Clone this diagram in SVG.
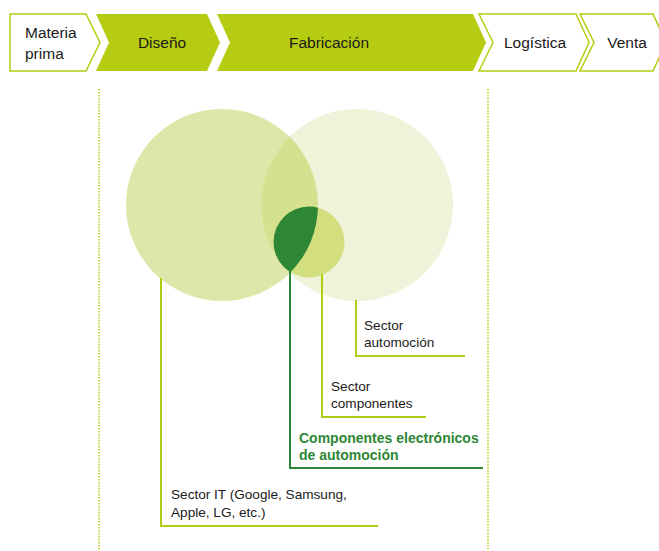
<svg xmlns="http://www.w3.org/2000/svg" width="659" height="551" viewBox="0 0 659 551">
<style>
.chev{fill:#b5cc12}
.chevo{fill:#fff;stroke:#b5cc12;stroke-width:1.5}
.ht{font-family:"Liberation Sans",Arial,sans-serif;font-size:15.5px;fill:#1a1a1a}
.lt{font-family:"Liberation Sans",Arial,sans-serif;font-size:13.6px;fill:#1a1a1a}
.bt{font-family:"Liberation Sans",Arial,sans-serif;font-size:14px;font-weight:bold;fill:#2e8735}
.ll{fill:none;stroke:#b5cc12;stroke-width:2}
.ld{fill:none;stroke:#2e8735;stroke-width:2}
.dot{stroke:#b5cc12;stroke-width:1.5;stroke-dasharray:1.5 1.5}
</style>
<defs>
<clipPath id="cL"><circle cx="222" cy="205" r="96"/></clipPath>
<clipPath id="cR"><circle cx="357" cy="205" r="96"/></clipPath>
</defs>
<g id="header">
<g id="materia"><polygon class="chevo" points="10,14 86,14 100,42.5 86,71 10,71"/><text class="ht" x="25" y="38">Materia</text><text class="ht" x="25" y="59">prima</text></g>
<g id="diseno"><polygon class="chev" points="96,14 207,14 220,42.5 207,71 96,71 109,42.5"/><text class="ht" x="162" y="48" text-anchor="middle">Diseño</text></g>
<g id="fabricacion"><polygon class="chev" points="217,14 473,14 486,42.5 473,71 217,71 230,42.5"/><text class="ht" x="329" y="48" text-anchor="middle">Fabricación</text></g>
<g id="logistica"><polygon class="chevo" points="479,14 576,14 589,42.5 576,71 479,71 493,42.5"/><text class="ht" x="535" y="48" text-anchor="middle">Logística</text></g>
<g id="venta"><polygon class="chevo" points="580,14 653,14 666,42.5 653,71 580,71 594,42.5"/><text class="ht" x="627" y="48" text-anchor="middle">Venta</text></g>
</g>
<g id="guides">
<line class="dot" x1="99" y1="89" x2="99" y2="551"/>
<line class="dot" x1="488" y1="89" x2="488" y2="551"/>
</g>
<g id="venn">
<circle id="it" cx="222" cy="205" r="96" fill="#dee6a9"/>
<circle id="auto" cx="357" cy="205" r="96" fill="#eef3d9"/>
<circle cx="357" cy="205" r="96" fill="#d6e18f" clip-path="url(#cL)"/>
<circle id="comp" cx="309" cy="242" r="35.5" fill="#d3de7f"/>
<circle id="elec" cx="309" cy="242" r="35.5" fill="#2e8735" clip-path="url(#cL)"/>
</g>
<g id="connectors">
<polyline class="ll" points="161,278 161,526 378,526"/>
<polyline class="ld" points="290,271 290,468 483,468"/>
<polyline class="ll" points="322,274 322,417 426,417"/>
<polyline class="ll" points="356,300 356,356 465,356"/>
</g>
<g id="labels">
<text class="lt" x="364" y="330">Sector</text>
<text class="lt" x="364" y="347">automoción</text>
<text class="lt" x="331" y="391">Sector</text>
<text class="lt" x="331" y="408">componentes</text>
<text class="bt" x="299" y="443">Componentes electrónicos</text>
<text class="bt" x="299" y="460">de automoción</text>
<text class="lt" x="171" y="499">Sector IT (Google, Samsung,</text>
<text class="lt" x="171" y="517">Apple, LG, etc.)</text>
</g>
</svg>
